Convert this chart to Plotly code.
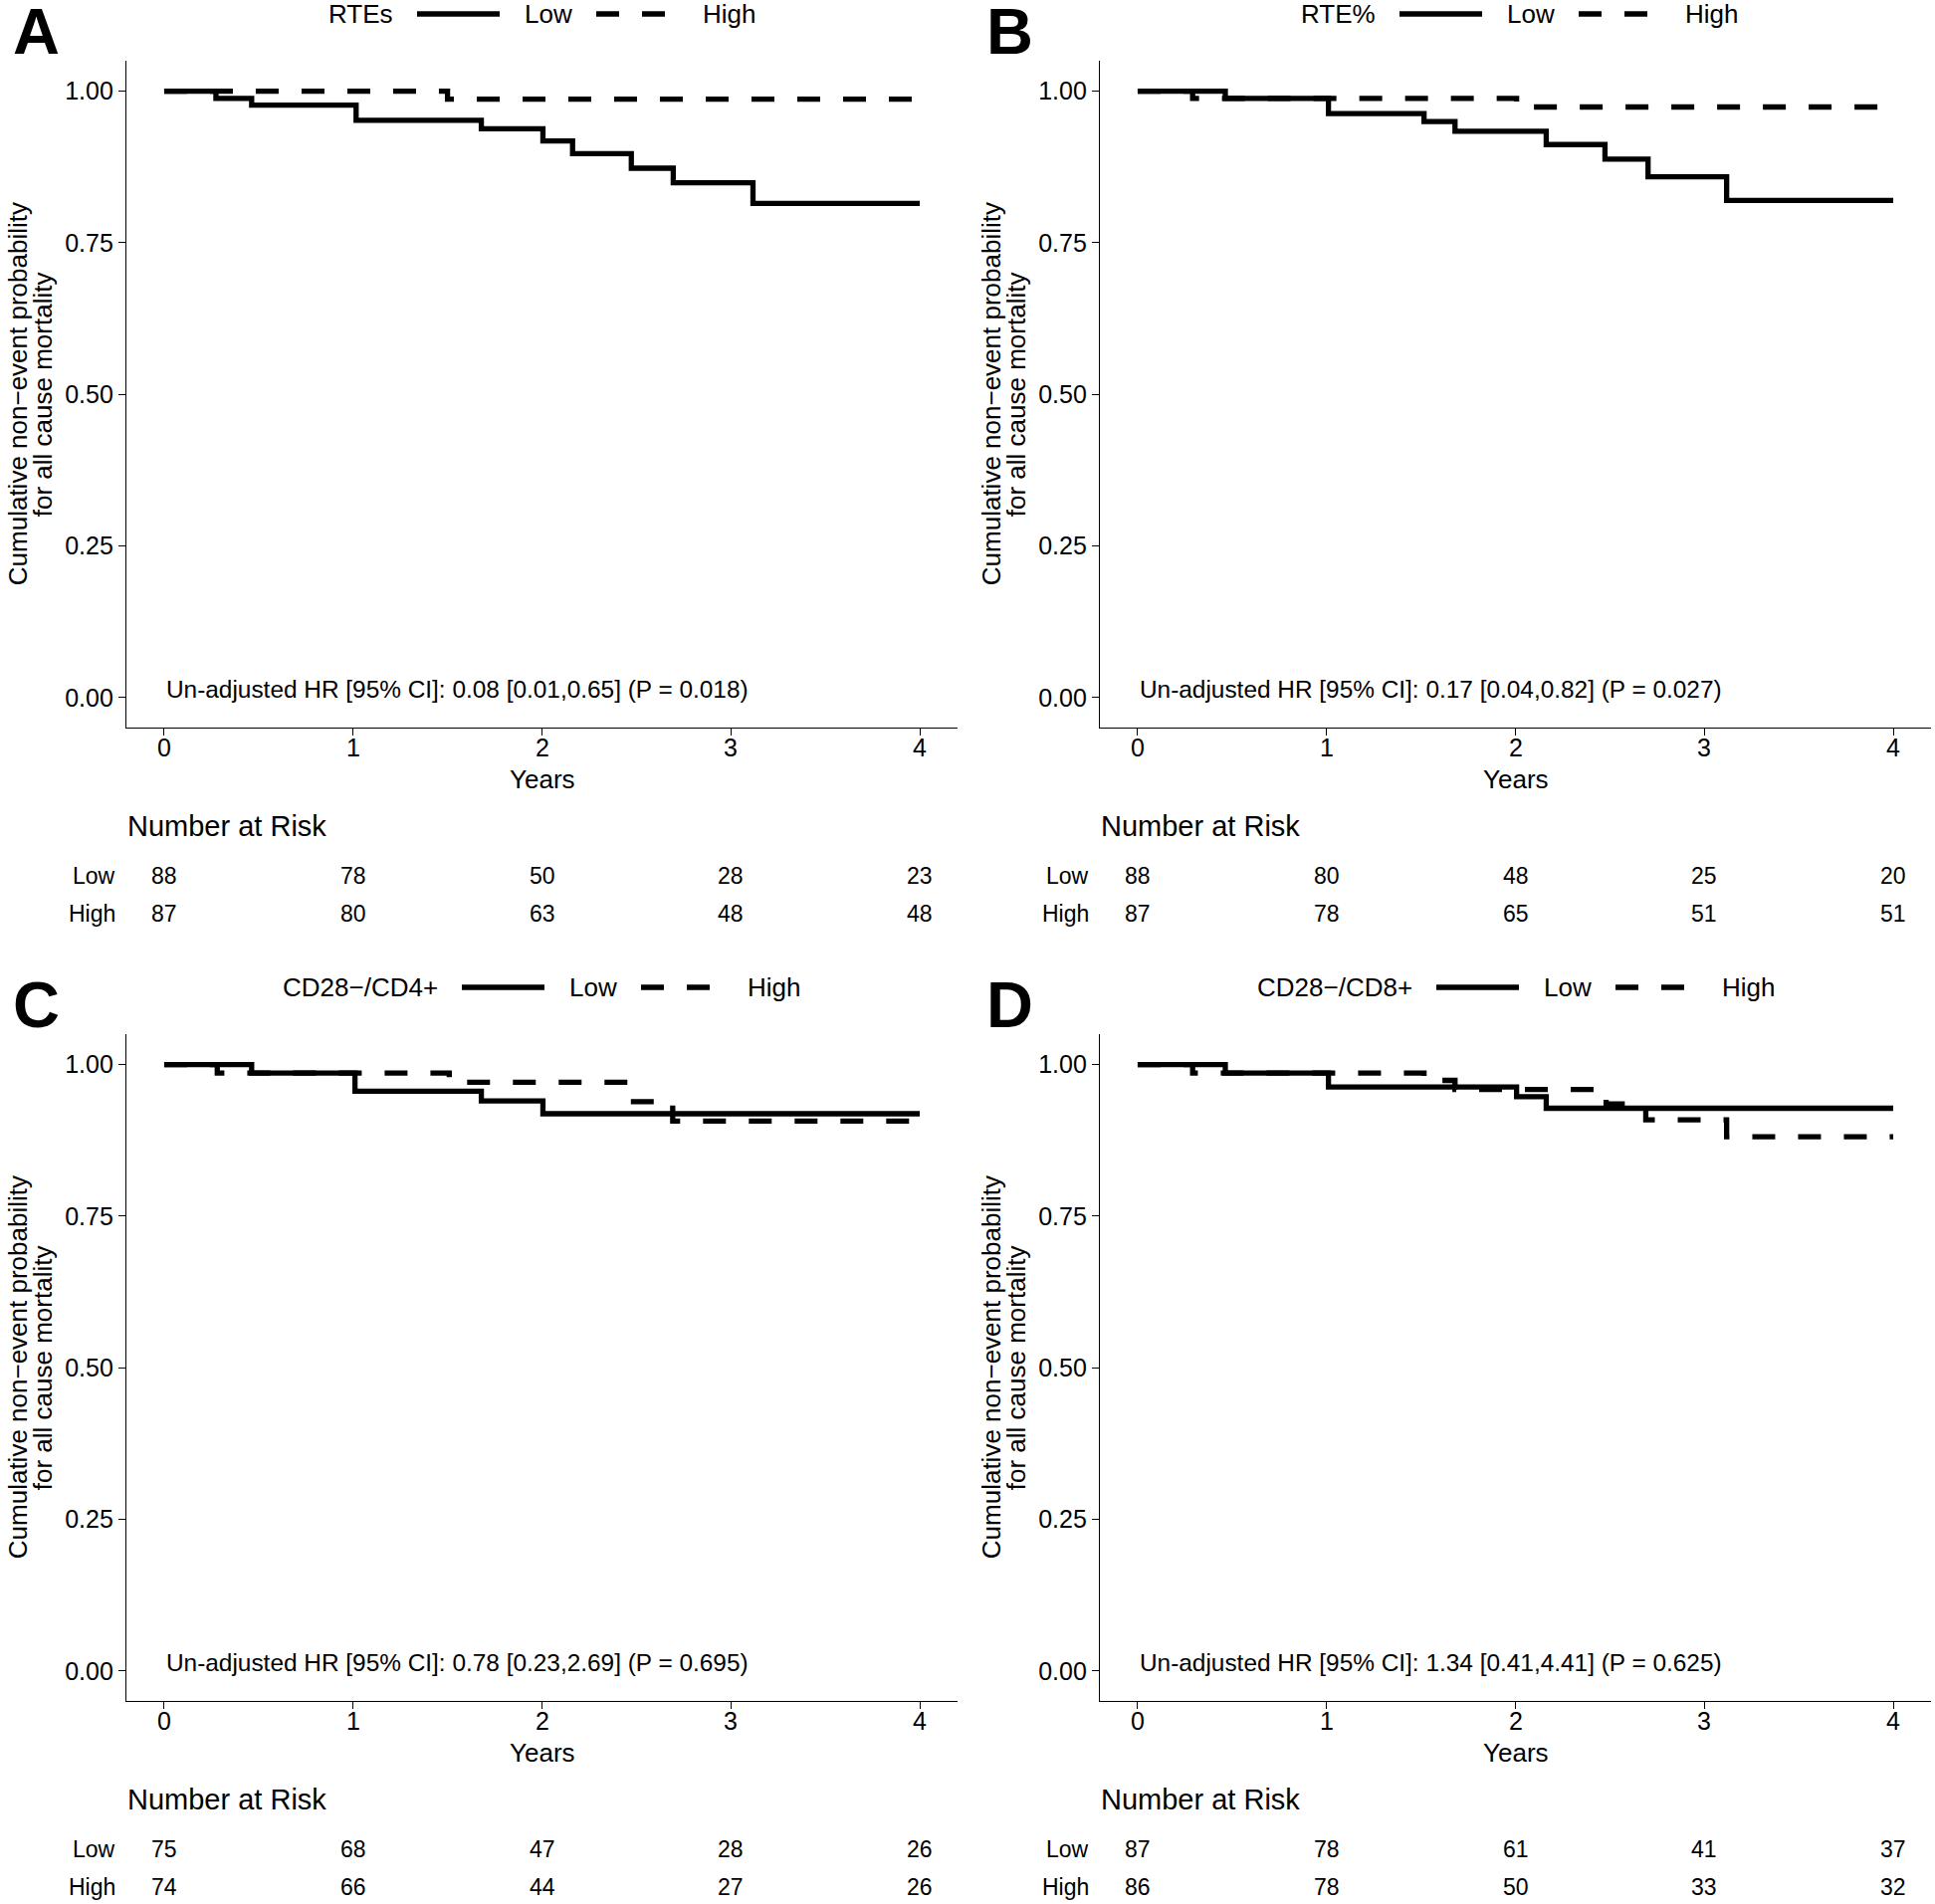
import plotly.graph_objects as go

W, H = 1944, 1913
FONT = "Liberation Sans, Arial, Helvetica, sans-serif"

# ---------------- data ----------------
panel_letters = ["A", "B", "C", "D"]
legend_titles = ["RTEs", "RTE%", "CD28\u2212/CD4+", "CD28\u2212/CD8+"]
group_labels = ["Low", "High"]
year_ticks = [0, 1, 2, 3, 4]
y_ticks = [0.0, 0.25, 0.5, 0.75, 1.0]
y_tick_labels = ["0.00", "0.25", "0.50", "0.75", "1.00"]

hr_texts = [
    "Un-adjusted HR [95% CI]: 0.08 [0.01,0.65] (P = 0.018)",
    "Un-adjusted HR [95% CI]: 0.17 [0.04,0.82] (P = 0.027)",
    "Un-adjusted HR [95% CI]: 0.78 [0.23,2.69] (P = 0.695)",
    "Un-adjusted HR [95% CI]: 1.34 [0.41,4.41] (P = 0.625)",
]

# Kaplan-Meier step curves (time in years, non-event probability)
a_low_t = [0, 0.274, 0.463, 1.016, 1.679, 2.005, 2.162, 2.473, 2.695, 3.117, 4.0]
a_low_s = [1.0, 0.988, 0.977, 0.952, 0.938, 0.918, 0.897, 0.873, 0.849, 0.815, 0.815]
a_high_t = [0, 1.50, 4.0]
a_high_s = [1.0, 0.987, 0.987]

b_low_t = [0, 0.464, 1.010, 1.516, 1.680, 2.163, 2.474, 2.702, 3.118, 4.0]
b_low_s = [1.0, 0.988, 0.963, 0.950, 0.934, 0.912, 0.888, 0.859, 0.820, 0.820]
b_high_t = [0, 0.291, 2.006, 4.0]
b_high_s = [1.0, 0.988, 0.974, 0.974]

c_low_t = [0, 0.463, 1.010, 1.679, 2.005, 4.0]
c_low_s = [1.0, 0.986, 0.956, 0.940, 0.919, 0.919]
c_high_t = [0, 0.281, 1.509, 2.470, 2.692, 4.0]
c_high_s = [1.0, 0.986, 0.971, 0.939, 0.907, 0.907]

d_low_t = [0, 0.464, 1.010, 2.006, 2.163, 4.0]
d_low_s = [1.0, 0.986, 0.963, 0.947, 0.928, 0.928]
d_high_t = [0, 0.291, 1.516, 1.680, 2.480, 2.690, 3.118, 4.0]
d_high_s = [1.0, 0.986, 0.974, 0.959, 0.935, 0.909, 0.881, 0.881]

# Number at risk at years 0..4
risk_low = [
    [88, 78, 50, 28, 23],
    [88, 80, 48, 25, 20],
    [75, 68, 47, 28, 26],
    [87, 78, 61, 41, 37],
]
risk_high = [
    [87, 80, 63, 48, 48],
    [87, 78, 65, 51, 51],
    [74, 66, 44, 27, 26],
    [86, 78, 50, 33, 32],
]

curves = [
    ((a_low_t, a_low_s), (a_high_t, a_high_s)),
    ((b_low_t, b_low_s), (b_high_t, b_high_s)),
    ((c_low_t, c_low_s), (c_high_t, c_high_s)),
    ((d_low_t, d_low_s), (d_high_t, d_high_s)),
]

# ---------------- layout geometry (pixels) ----------------
def px(x):
    return x / W

def py(y):
    return 1 - y / H

DX, DY = 978, 978
PL, PR, PT, PB = 127, 962, 61.2, 731.2
offsets = [(0, 0), (DX, 0), (0, DY), (DX, DY)]
legend_line_start = [419, 428, 464, 465]

fig = go.Figure()
annotations = []
shapes = []
layout = {}

DASH = "23px,23px"
LW = 5.3
TXT = dict(family=FONT, color="black")

for i, (ox, oy) in enumerate(offsets):
    n = i + 1
    xa = "xaxis" if n == 1 else f"xaxis{n}"
    ya = "yaxis" if n == 1 else f"yaxis{n}"
    xr = "x" if n == 1 else f"x{n}"
    yr = "y" if n == 1 else f"y{n}"

    layout[xa] = dict(
        domain=[px(PL + ox), px(PR + ox)], anchor=yr, range=[-0.2, 4.2],
        tickvals=year_ticks, showticklabels=False,
        showline=True, linecolor="black", linewidth=1.4, mirror=False,
        ticks="outside", ticklen=7, tickwidth=1.4, tickcolor="black",
        showgrid=False, zeroline=False,
    )
    layout[ya] = dict(
        domain=[py(PB + oy), py(PT + oy)], anchor=xr, range=[-0.05, 1.05],
        tickvals=y_ticks, ticktext=y_tick_labels,
        showline=True, linecolor="black", linewidth=1.4,
        ticks="outside", ticklen=7, tickwidth=1.4, tickcolor="black",
        showgrid=False, zeroline=False,
        tickfont=dict(size=25, **TXT),
    )

    (lt, ls), (ht, hs) = curves[i]
    fig.add_trace(go.Scatter(x=lt, y=ls, mode="lines", line=dict(color="black", width=LW, shape="hv"),
                             xaxis=xr, yaxis=yr, showlegend=False, hoverinfo="skip"))
    fig.add_trace(go.Scatter(x=ht, y=hs, mode="lines", line=dict(color="black", width=LW, shape="hv", dash=DASH),
                             xaxis=xr, yaxis=yr, showlegend=False, hoverinfo="skip"))

    # x tick labels
    for t in year_ticks:
        annotations.append(dict(text=str(t), xref=xr, yref="paper", x=t, y=py(751 + oy),
                                xanchor="center", yanchor="middle", showarrow=False,
                                font=dict(size=25, **TXT)))

    # panel letter
    annotations.append(dict(text="<b>" + panel_letters[i] + "</b>", xref="paper", yref="paper",
                            x=px(36 + ox), y=py(31.5 + oy), xanchor="center", yanchor="middle",
                            showarrow=False, font=dict(size=65, **TXT)))

    # legend
    ls0 = legend_line_start[i] + ox
    ly = 14 + oy
    annotations.append(dict(text=legend_titles[i], xref="paper", yref="paper",
                            x=px(ls0 - 22), y=py(ly), xanchor="right", yanchor="middle",
                            showarrow=False, font=dict(size=26, **TXT)))
    shapes.append(dict(type="line", xref="paper", yref="paper", x0=px(ls0), x1=px(ls0 + 83),
                       y0=py(ly), y1=py(ly), line=dict(color="black", width=LW)))
    annotations.append(dict(text=group_labels[0], xref="paper", yref="paper",
                            x=px(ls0 + 106), y=py(ly), xanchor="left", yanchor="middle",
                            showarrow=False, font=dict(size=26, **TXT)))
    shapes.append(dict(type="line", xref="paper", yref="paper", x0=px(ls0 + 180), x1=px(ls0 + 249),
                       y0=py(ly), y1=py(ly), line=dict(color="black", width=LW, dash=DASH)))
    annotations.append(dict(text=group_labels[1], xref="paper", yref="paper",
                            x=px(ls0 + 285), y=py(ly), xanchor="left", yanchor="middle",
                            showarrow=False, font=dict(size=26, **TXT)))

    # y-axis title (two lines)
    annotations.append(dict(text="Cumulative non\u2212event probability", xref="paper", yref="paper",
                            x=px(18 + ox), y=py((PT + PB) / 2 + oy), xanchor="center", yanchor="middle",
                            textangle=-90, showarrow=False, font=dict(size=26, **TXT)))
    annotations.append(dict(text="for all cause mortality", xref="paper", yref="paper",
                            x=px(43 + ox), y=py((PT + PB) / 2 + oy), xanchor="center", yanchor="middle",
                            textangle=-90, showarrow=False, font=dict(size=26, **TXT)))

    # x-axis title
    annotations.append(dict(text="Years", xref=xr, yref="paper", x=2, y=py(783 + oy),
                            xanchor="center", yanchor="middle", showarrow=False,
                            font=dict(size=26, **TXT)))

    # HR text
    annotations.append(dict(text=hr_texts[i], xref=xr, yref=yr, x=0, y=0.014,
                            xanchor="left", yanchor="middle", showarrow=False,
                            font=dict(size=24.4, **TXT)))

    # Number at risk
    annotations.append(dict(text="Number at Risk", xref="paper", yref="paper",
                            x=px(126 + ox), y=py(830 + oy), xanchor="left", yanchor="middle",
                            showarrow=False, font=dict(size=29, **TXT)))
    for row, (lab, vals, yy) in enumerate([(group_labels[0], risk_low[i], 880),
                                           (group_labels[1], risk_high[i], 918)]):
        annotations.append(dict(text=lab, xref="paper", yref="paper",
                                x=px(118 + ox), y=py(yy + oy), xanchor="right", yanchor="middle",
                                showarrow=False, font=dict(size=23, **TXT)))
        for t, v in zip(year_ticks, vals):
            annotations.append(dict(text=str(v), xref=xr, yref="paper", x=t, y=py(yy + oy),
                                    xanchor="center", yanchor="middle", showarrow=False,
                                    font=dict(size=23, **TXT)))

fig.update_layout(
    width=W, height=H,
    margin=dict(l=0, r=0, t=0, b=0),
    paper_bgcolor="white", plot_bgcolor="white",
    showlegend=False,
    annotations=annotations, shapes=shapes,
    font=TXT,
    **layout,
)

# remove the default 8px page margin so the figure sits at the window's top-left corner
fig.write_html(
    "out.html",
    config={"displayModeBar": False},
    post_script="document.body.style.margin='0';document.body.style.overflow='hidden';",
)
